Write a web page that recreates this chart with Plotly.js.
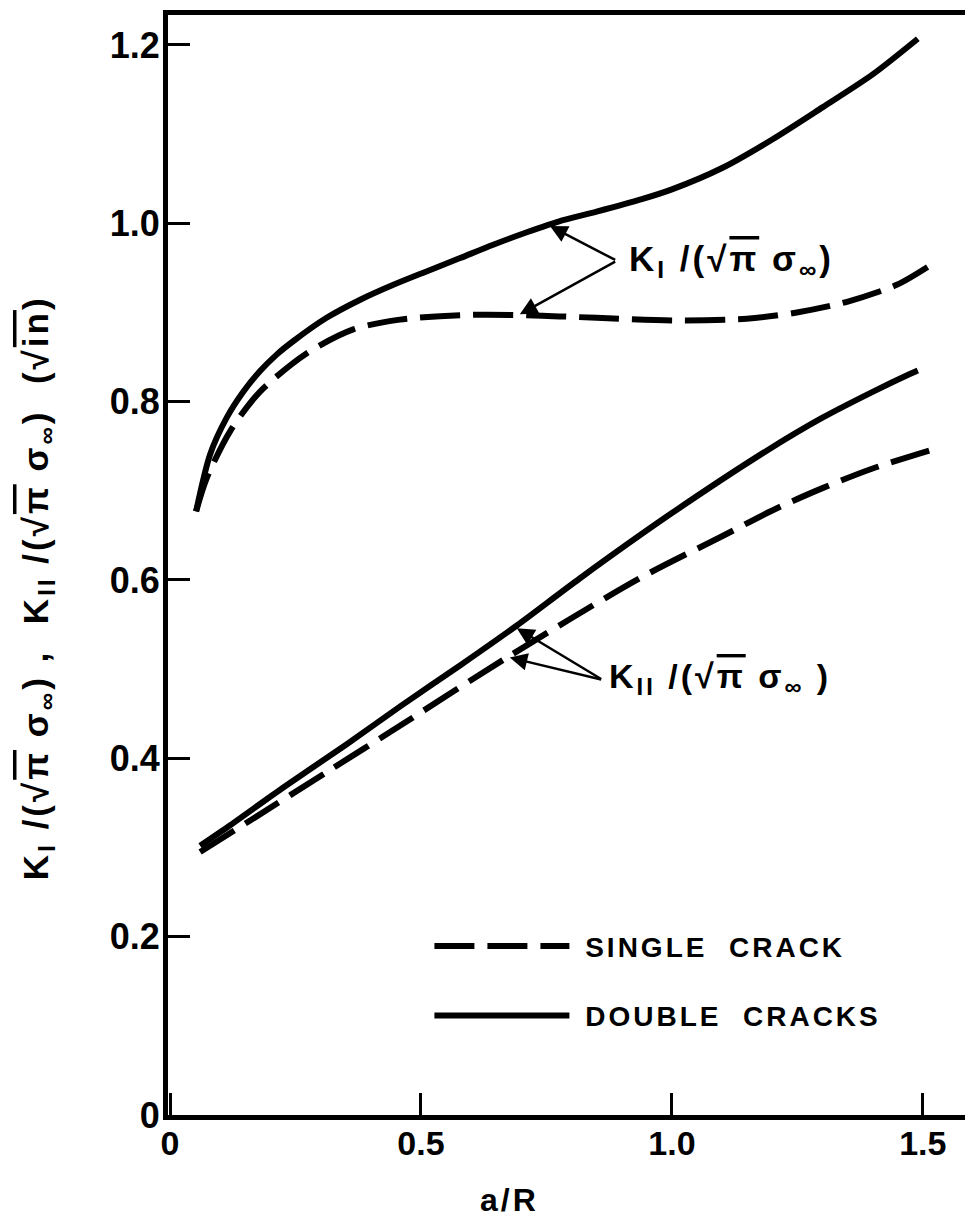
<!DOCTYPE html>
<html>
<head>
<meta charset="utf-8">
<script src="https://cdn.plot.ly/plotly-3.0.1.min.js"></script>
<style>
  html, body { margin: 0; padding: 0; background: #fff; }
  #chart { width: 965px; height: 1229px; }
  .legendtext { letter-spacing: 3px; }
  .annotation-text { letter-spacing: 3px; }
</style>
</head>
<body>
<div id="chart"></div>
<script>
// ---- Data ----
// Mode I, double cracks (solid, upper)
const xDoubleKI = [0.052, 0.08, 0.113, 0.146, 0.179, 0.213, 0.246, 0.312, 0.378, 0.445, 0.511, 0.578, 0.644, 0.711, 0.774, 0.85, 0.94, 1.0, 1.1, 1.2, 1.3, 1.4, 1.49];
const yDoubleKI = [0.677, 0.741, 0.782, 0.811, 0.834, 0.853, 0.868, 0.894, 0.914, 0.931, 0.946, 0.961, 0.976, 0.990, 1.002, 1.013, 1.027, 1.038, 1.062, 1.094, 1.130, 1.167, 1.207];
// Mode I, single crack (dashed, upper)
const xSingleKI = [0.052, 0.073, 0.12, 0.179, 0.272, 0.365, 0.458, 0.578, 0.711, 0.85, 1.016, 1.149, 1.249, 1.349, 1.448, 1.515];
const ySingleKI = [0.677, 0.714, 0.767, 0.811, 0.854, 0.881, 0.892, 0.897, 0.897, 0.894, 0.891, 0.893, 0.900, 0.912, 0.931, 0.953];
// Mode II, double cracks (solid, lower)
const xDoubleKII = [0.06, 0.12, 0.225, 0.35, 0.458, 0.58, 0.691, 0.817, 1.0, 1.189, 1.3, 1.4, 1.474, 1.49];
const yDoubleKII = [0.302, 0.325, 0.367, 0.415, 0.458, 0.505, 0.549, 0.602, 0.675, 0.745, 0.782, 0.811, 0.831, 0.835];
// Mode II, single crack (dashed, lower)
const xSingleKII = [0.06, 0.159, 0.319, 0.44, 0.677, 0.936, 1.1, 1.2, 1.3, 1.4, 1.53];
const ySingleKII = [0.295, 0.330, 0.387, 0.430, 0.515, 0.602, 0.649, 0.678, 0.703, 0.725, 0.748];

const xTickVals = [0, 0.5, 1.0, 1.5];
const xTickText = ['0', '0.5', '1.0', '1.5'];
const yTickVals = [0, 0.2, 0.4, 0.6, 0.8, 1.0, 1.2];
const yTickText = ['0', '0.2', '0.4', '0.6', '0.8', '1.0', '1.2'];

const seriesNames = ['\u00a0SINGLE\u00a0 CRACK', '\u00a0DOUBLE\u00a0 CRACKS'];
const labelKI = 'K<sub>I</sub> /(√<span style="text-decoration:overline">π</span> σ<sub>∞</sub>)';
const labelKII = 'K<sub>II</sub> /(√<span style="text-decoration:overline">π</span> σ<sub>∞</sub> )';
const yTitle = 'K<sub>I</sub> /(√<span style="text-decoration:overline">π</span> σ<sub>∞</sub>) ,  K<sub>II</sub> /(√<span style="text-decoration:overline">π</span> σ<sub>∞</sub>)  (√<span style="text-decoration:overline">in</span>)';
const xTitle = 'a/R';

// ---- Styling ----
const FONT = 'Liberation Sans, Arial, sans-serif';
const DASH = '40px,13px';
const LW = 6;

const traces = [
  { x: xSingleKI, y: ySingleKI, name: seriesNames[0], legendgroup: 'g1', showlegend: true,
    mode: 'lines', line: { color: '#000', width: LW, dash: DASH, shape: 'spline', smoothing: 0.8 } },
  { x: xDoubleKI, y: yDoubleKI, name: seriesNames[1], legendgroup: 'g2', showlegend: true,
    mode: 'lines', line: { color: '#000', width: LW, shape: 'spline', smoothing: 0.8 } },
  { x: xSingleKII, y: ySingleKII, name: seriesNames[0], legendgroup: 'g1', showlegend: false,
    mode: 'lines', line: { color: '#000', width: LW, dash: DASH, shape: 'spline', smoothing: 0.8 } },
  { x: xDoubleKII, y: yDoubleKII, name: seriesNames[1], legendgroup: 'g2', showlegend: false,
    mode: 'lines', line: { color: '#000', width: LW, shape: 'spline', smoothing: 0.8 } }
];

function arrow(hx, hy, tx, ty) {
  return { x: hx, y: hy, ax: tx, ay: ty, xref: 'x', yref: 'y', axref: 'x', ayref: 'y',
    text: '', showarrow: true, arrowhead: 2, arrowsize: 1.4, arrowwidth: 2.5, arrowcolor: '#000' };
}

const layout = {
  width: 965, height: 1229,
  margin: { l: 168, r: 0, t: 15, b: 114 },
  paper_bgcolor: '#fff', plot_bgcolor: '#fff',
  font: { family: FONT, color: '#000', size: 30, weight: 'bold' },
  showlegend: true,
  legend: {
    x: 0.328, y: 0.176, xanchor: 'left', yanchor: 'top',
    bgcolor: 'rgba(0,0,0,0)', borderwidth: 0,
    itemwidth: 135, tracegroupgap: 30, traceorder: 'grouped',
    font: { family: FONT, size: 28, color: '#000', weight: 'bold' }
  },
  xaxis: {
    range: [-0.004, 1.584], showgrid: false, zeroline: false,
    showline: true, linecolor: '#000', linewidth: 5, mirror: true,
    ticks: 'inside', ticklen: 22, tickwidth: 3, tickcolor: '#000',
    tickvals: xTickVals, ticktext: xTickText, ticklabelstandoff: -6,
    tickfont: { family: FONT, size: 34, color: '#000', weight: 'bold' }
  },
  yaxis: {
    range: [0, 1.2336], showgrid: false, zeroline: false,
    showline: true, linecolor: '#000', linewidth: 5,
    ticks: 'inside', ticklen: 22, tickwidth: 3, tickcolor: '#000',
    tickvals: yTickVals, ticktext: yTickText, ticklabelstandoff: -4,
    tickfont: { family: FONT, size: 36, color: '#000', weight: 'bold' }
  },
  annotations: [
    { text: labelKI, x: 0.91, y: 0.958, xref: 'x', yref: 'y', xanchor: 'left', yanchor: 'middle',
      showarrow: false, font: { family: FONT, size: 35, color: '#000', weight: 'bold' } },
    arrow(0.757, 0.997, 0.89, 0.958),
    arrow(0.697, 0.898, 0.89, 0.958),
    { text: labelKII, x: 0.871, y: 0.490, xref: 'x', yref: 'y', xanchor: 'left', yanchor: 'middle',
      showarrow: false, font: { family: FONT, size: 34, color: '#000', weight: 'bold' } },
    arrow(0.691, 0.546, 0.862, 0.488),
    arrow(0.677, 0.513, 0.862, 0.488),
    { text: yTitle, textangle: -90, xref: 'paper', yref: 'paper', x: -0.163, y: 0.479,
      xanchor: 'center', yanchor: 'middle', showarrow: false,
      font: { family: FONT, size: 35, color: '#000', weight: 'bold' } },
    { text: xTitle, xref: 'paper', yref: 'paper', x: 0.429, y: -0.077,
      xanchor: 'center', yanchor: 'middle', showarrow: false,
      font: { family: FONT, size: 32, color: '#000', weight: 'bold' } }
  ]
};

Plotly.newPlot('chart', traces, layout, { staticPlot: true, displayModeBar: false });
</script>
</body>
</html>
